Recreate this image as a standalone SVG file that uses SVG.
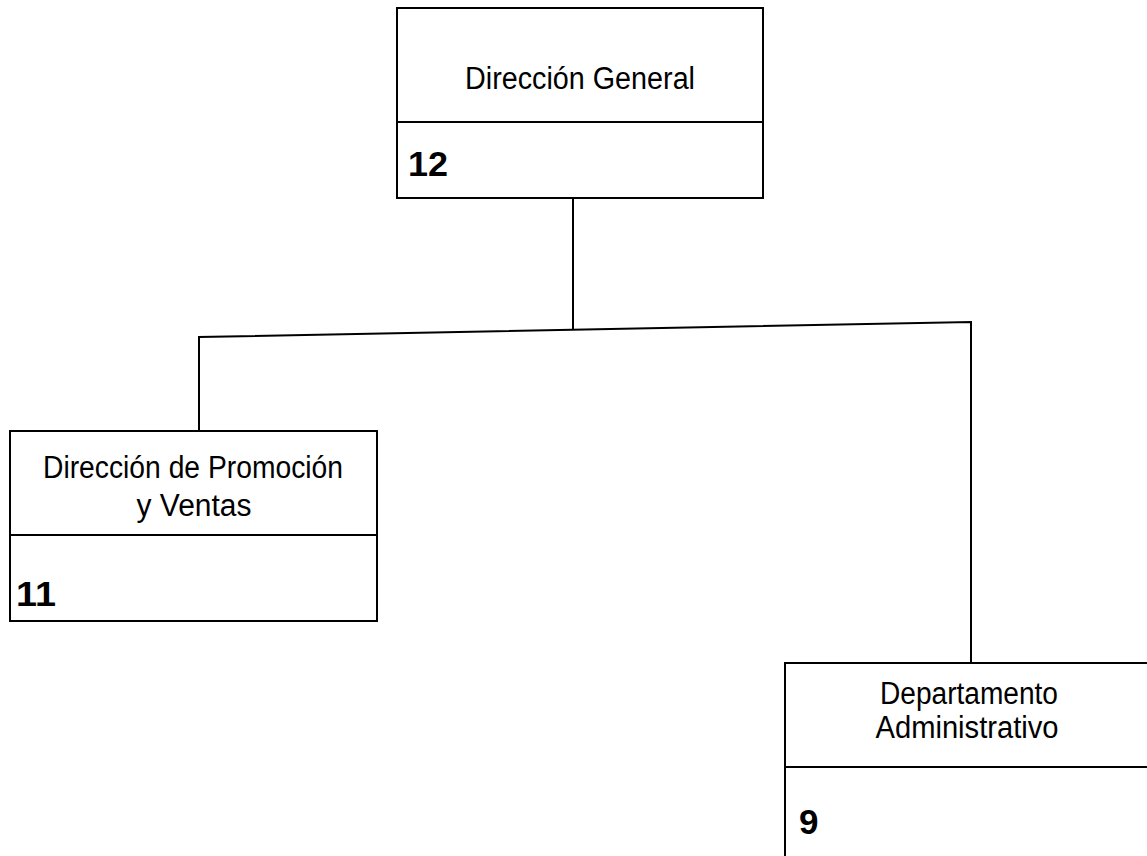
<svg xmlns="http://www.w3.org/2000/svg" width="1147" height="856" viewBox="0 0 1147 856">
<style>
.box{fill:#fff;stroke:#000;stroke-width:2}
.div{stroke:#000;stroke-width:2}
.lbl{font-family:"Liberation Sans",Arial,sans-serif;font-size:31px;fill:#000;text-anchor:middle}
.num{font-family:"Liberation Sans",Arial,sans-serif;font-size:35px;font-weight:bold;fill:#000}
.con{fill:none;stroke:#000;stroke-width:2}
</style>
<rect width="1147" height="856" fill="#fff"/>
<g id="connectors">
<line class="con" x1="573" y1="198" x2="573" y2="330"/>
<polyline class="con" points="199,431 199,337 971,322 971,663"/>
</g>
<g id="node-direccion-general">
<rect class="box" x="397" y="8" width="366" height="190"/>
<line class="div" x1="397" y1="122" x2="763" y2="122"/>
<text class="lbl" x="580" y="89" textLength="230" lengthAdjust="spacingAndGlyphs">Dirección General</text>
<text class="num" x="408" y="176" textLength="40" lengthAdjust="spacingAndGlyphs">12</text>
</g>
<g id="node-promocion-ventas">
<rect class="box" x="10" y="431" width="367" height="190"/>
<line class="div" x1="10" y1="535" x2="377" y2="535"/>
<text class="lbl" x="193" y="478" textLength="300" lengthAdjust="spacingAndGlyphs">Dirección de Promoción</text>
<text class="lbl" x="194" y="516" textLength="115" lengthAdjust="spacingAndGlyphs">y Ventas</text>
<text class="num" x="16" y="606" textLength="40" lengthAdjust="spacingAndGlyphs">11</text>
</g>
<g id="node-departamento-administrativo">
<rect class="box" x="785" y="663" width="380" height="220"/>
<line class="div" x1="785" y1="767" x2="1147" y2="767"/>
<text class="lbl" x="969" y="704" textLength="178" lengthAdjust="spacingAndGlyphs">Departamento</text>
<text class="lbl" x="967" y="738" textLength="183" lengthAdjust="spacingAndGlyphs">Administrativo</text>
<text class="num" x="799" y="834">9</text>
</g>
</svg>
